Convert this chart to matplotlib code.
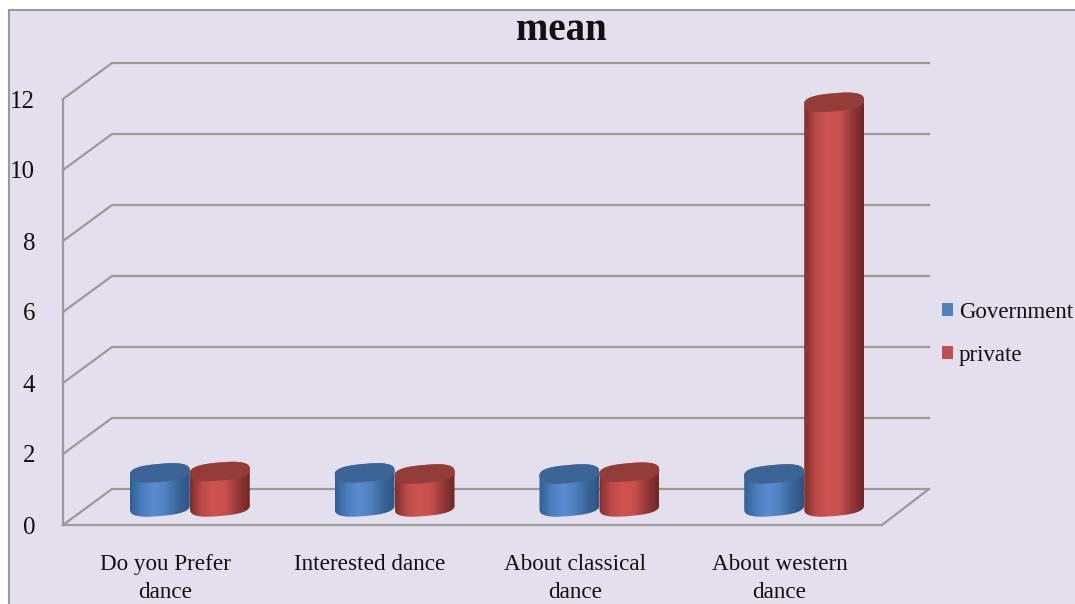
import numpy as np
import matplotlib
matplotlib.use("Agg")
import matplotlib.pyplot as plt
from matplotlib.colors import LinearSegmentedColormap
from matplotlib.patches import Patch, Polygon, Rectangle

categories = ["Do you Prefer\ndance", "Interested dance", "About classical\ndance", "About western\ndance"]
government = [0.96, 0.96, 0.93, 0.93]
private = [1.0, 0.93, 0.98, 11.4]
y_ticks = [0, 2, 4, 6, 8, 10, 12]

BG = "#E4DFEC"
GRID = "#9A9A9A"
FONT = ["Liberation Serif", "DejaVu Serif"]

W, H = 1075, 604
# front plane of the 3d box, in pixels
LEFT, RIGHT, BOTTOM, TOP = 63, 882, 525, 99
PX_X = 4.0 / (RIGHT - LEFT)
PX_Y = 12.0 / (BOTTOM - TOP)
DEPTH_X = 49 * PX_X
DEPTH_Y = 36 * PX_Y
BACK_RIGHT = 3.5 + 47 * PX_X
BAR_W = 60 * PX_X

fig = plt.figure(figsize=(W / 100, H / 100), dpi=100, facecolor="white")
fig.add_artist(Rectangle((9 / W, -0.01), 1.01 - 9 / W, 1.01 - 10 / H, transform=fig.transFigure,
                         facecolor=BG, edgecolor=GRID, linewidth=1.5, zorder=-1))

ax = fig.add_axes([LEFT / W, 1 - BOTTOM / H, (RIGHT - LEFT) / W, (BOTTOM - TOP) / H])
ax.patch.set_alpha(0)
ax.set_xlim(-0.5, 3.5)
ax.set_ylim(0, 12)
ax.set_autoscale_on(False)

for s in ["top", "right"]:
    ax.spines[s].set_visible(False)
for s in ["left", "bottom"]:
    ax.spines[s].set_color(GRID)
    ax.spines[s].set_linewidth(1.6)

# walls of the box
for v in y_ticks:
    ax.plot([-0.5, -0.5 + DEPTH_X, BACK_RIGHT], [v, v + DEPTH_Y, v + DEPTH_Y],
            color=GRID, lw=1.6, clip_on=False, zorder=1)
ax.plot([3.5, BACK_RIGHT], [0, DEPTH_Y], color=GRID, lw=1.6, clip_on=False, zorder=1)


def ellipse(cx, cy, t):
    # blunt, slightly tilted end of a cylinder, 30x9 px
    a, b, th = 30, 9, np.radians(5)
    ex = np.sign(np.cos(t)) * np.abs(np.cos(t)) ** 0.75
    ey = np.sign(np.sin(t)) * np.abs(np.sin(t)) ** 0.75
    x = a * ex * np.cos(th) - b * ey * np.sin(th)
    y = a * ex * np.sin(th) + b * ey * np.cos(th)
    return cx + x * PX_X, cy + y * PX_Y


def cylinder(cx, value, colors, top_color, z):
    base = DEPTH_Y / 2
    xb, yb = ellipse(cx, base, np.linspace(np.pi, 2 * np.pi, 60))
    xt, yt = ellipse(cx, base + value, np.linspace(0, np.pi, 60))
    body = Polygon(np.column_stack([np.r_[xb, xt], np.r_[yb, yt]]), closed=True,
                   facecolor="none", edgecolor="none", transform=ax.transData, zorder=z)
    ax.add_patch(body)
    body.set_clip_on(False)
    cmap = LinearSegmentedColormap.from_list("c", colors)
    im = ax.imshow(np.linspace(0, 1, 200).reshape(1, -1), cmap=cmap, aspect="auto",
                   extent=[cx - BAR_W / 2, cx + BAR_W / 2, 0, 12.6], zorder=z)
    im.set_clip_path(body)
    im.set_clip_box(fig.bbox)
    xe, ye = ellipse(cx, base + value, np.linspace(0, 2 * np.pi, 80))
    cap = Polygon(np.column_stack([xe, ye]), closed=True, facecolor=top_color,
                  edgecolor="none", zorder=z + 0.1, clip_on=False)
    ax.add_patch(cap)


BLUE = ["#2F5F94", "#4A7DBB", "#5A8CD0", "#4F80BF", "#3A6798", "#2B5585"]
RED = ["#7E2F2C", "#BC4B48", "#D05451", "#C64F4C", "#96393A", "#6F2725"]
for i in range(len(categories)):
    mid = i + DEPTH_X / 2
    cylinder(mid - BAR_W / 2, government[i], BLUE, "#3A6596", 3 + i)
    cylinder(mid + BAR_W / 2, private[i], RED, "#943C38", 3.5 + i)

ax.set_xticks(range(len(categories)))
ax.set_xticklabels(categories, family=FONT, fontsize=16.7, linespacing=1.4, color="#111111")
ax.set_yticks(y_ticks)
ax.set_yticklabels([str(v) for v in y_ticks], family=FONT, fontsize=18, color="#111111")
ax.tick_params(axis="x", length=0, pad=21)
ax.tick_params(axis="y", length=0, pad=20)

fig.text(561 / W, 1 - 30 / H, "mean", family=FONT, fontsize=28, fontweight="bold",
         ha="center", va="center", color="#111111")

handles = [Patch(facecolor="#4F81BD", edgecolor="none"), Patch(facecolor="#C0504D", edgecolor="none")]
fig.legend(handles, ["Government", "private"], loc="upper left",
           bbox_to_anchor=(942 / W, 1 - 302 / H), frameon=False, borderpad=0, borderaxespad=0,
           prop={"family": FONT, "size": 16.5}, handlelength=0.48, handleheight=0.48,
           handletextpad=0.25, labelspacing=0.95, labelcolor="#111111")

fig.savefig("out.png", dpi=100)
